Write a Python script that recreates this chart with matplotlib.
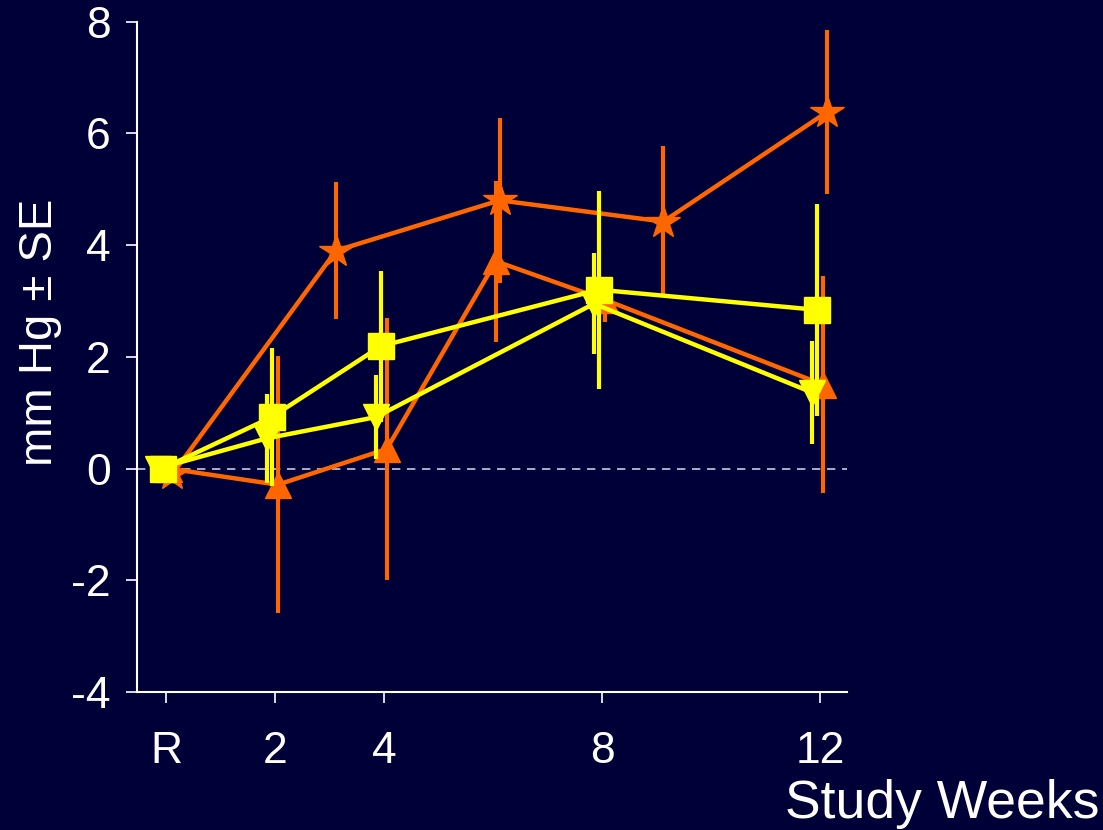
import matplotlib

matplotlib.use("Agg")
import matplotlib.pyplot as plt

# study weeks per series (R = run-in, plotted at 0)
star_weeks = [0, 3, 6, 9, 12]
star_mean = [-0.1, 3.9, 4.8, 4.42, 6.38]
star_se = [0.0, 1.23, 1.48, 1.35, 1.47]

tri_weeks = [0, 2, 4, 6, 8, 12]
tri_mean = [0.0, -0.29, 0.35, 3.71, 3.02, 1.5]
tri_se = [0.0, 2.3, 2.34, 1.44, 0.4, 1.94]

sq_weeks = [0, 2, 4, 8, 12]
sq_mean = [0.0, 0.92, 2.19, 3.2, 2.84]
sq_se = [0.0, 1.24, 1.35, 1.77, 1.9]

dt_weeks = [0, 2, 4, 8, 12]
dt_mean = [0.0, 0.54, 0.92, 2.95, 1.36]
dt_se = [0.0, 0.8, 0.75, 0.9, 0.92]

tick_pos = [0, 2, 4, 8, 12]
tick_lab = ["R", "2", "4", "8", "12"]

BG = "#000038"
ORANGE = "#FF6600"
YELLOW = "#FFFF00"

plt.rcParams["font.family"] = ["Liberation Sans", "DejaVu Sans"]

fig = plt.figure(figsize=(11.03, 8.3), dpi=100, facecolor=BG)
ax = fig.add_axes([0.1242, 0.1663, 0.6438, 0.8077], facecolor=BG)

ax.axhline(0, color="#C8C8E8", lw=1.2, ls=(0, (5, 4)), zorder=1)


def series(weeks, mean, se, dx, color, marker, ms, z):
    xs = [w + dx for w in weeks]
    ax.errorbar(xs, mean, yerr=se, fmt="none", ecolor=color, elinewidth=3, capsize=0, zorder=z)
    ax.plot(xs, mean, color=color, lw=3.2, marker=marker, ms=ms, mec=color, mfc=color, zorder=z + 0.5)


series(tri_weeks, tri_mean, tri_se, 0.05, ORANGE, "^", 19, 2)
series(star_weeks, star_mean, star_se, 0.12, ORANGE, "*", 25, 3)
series(dt_weeks, dt_mean, dt_se, -0.15, YELLOW, "v", 19, 4)
series(sq_weeks, sq_mean, sq_se, -0.06, YELLOW, "s", 19, 5)

ax.set_xlim(-0.53, 12.49)
ax.set_ylim(-4, 8)
ax.set_xticks(tick_pos)
ax.set_xticklabels(tick_lab)
ax.set_yticks([-4, -2, 0, 2, 4, 6, 8])
ax.set_yticklabels(["-4", "-2", "0", "2", "4", "6", "8"])

for s in ["top", "right"]:
    ax.spines[s].set_visible(False)
for s in ["left", "bottom"]:
    ax.spines[s].set_color("white")
    ax.spines[s].set_linewidth(1.5)
ax.tick_params(axis="both", colors="white", length=8, width=1.2, direction="out", labelsize=32)
ax.tick_params(axis="x", pad=20)
ax.tick_params(axis="y", pad=11)

fig.text(0.036, 1 - 332 / 830, "mm Hg \u00b1 SE", rotation=90, color="white",
         fontsize=34, ha="center", va="center")
fig.text(0.997, 1 - 818 / 830, "Study Weeks", color="white", fontsize=38.5,
         ha="right", va="baseline")

fig.savefig("out.png", facecolor=BG)
